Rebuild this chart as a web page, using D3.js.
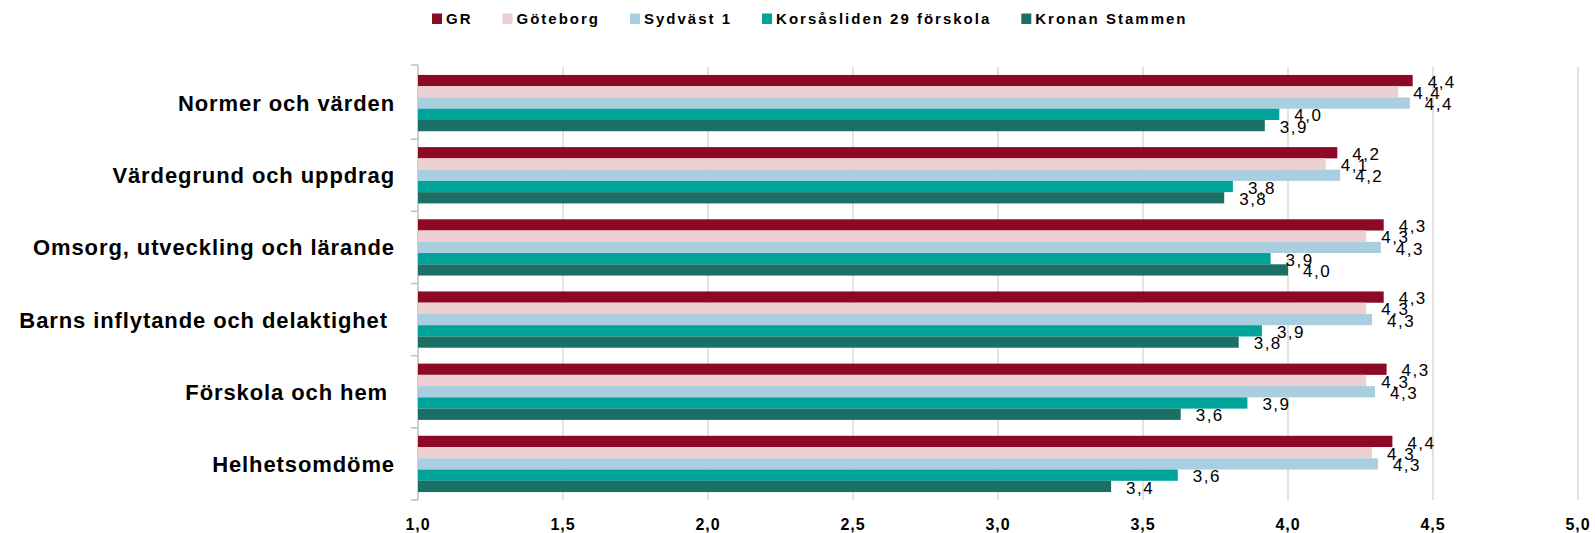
<!DOCTYPE html>
<html>
<head>
<meta charset="utf-8">
<script src="https://cdn.jsdelivr.net/npm/d3@7"></script>
<style>
body{margin:0;background:#fff;}
text{font-family:"Liberation Sans",Arial,sans-serif;white-space:pre;}
</style>
</head>
<body>
<div class="viz"></div>
<script>
const categories=["Normer och värden","Värdegrund och uppdrag","Omsorg, utveckling och lärande","Barns inflytande och delaktighet ","Förskola och hem ","Helhetsomdöme"];
const series=["GR","Göteborg","Sydväst 1","Korsåsliden 29 förskola","Kronan Stammen"];
const colors=["#8c0a26","#ebcfd1","#a9cee0","#00a39a","#1b7066"];
const grValues=[4.43,4.17,4.33,4.33,4.34,4.36];
const gbgValues=[4.38,4.13,4.27,4.27,4.27,4.29];
const sydvastValues=[4.42,4.18,4.32,4.29,4.30,4.31];
const korsasValues=[3.97,3.81,3.94,3.91,3.86,3.62];
const kronanValues=[3.92,3.78,4.00,3.83,3.63,3.39];
const xTicks=[1,1.5,2,2.5,3,3.5,4,4.5,5];

const allValues=[grValues,gbgValues,sydvastValues,korsasValues,kronanValues];
const width=1595, height=533;
const plotLeft=418, plotRight=1578, plotTop=67, plotBottom=500;

const svg=d3.select('.viz').append('svg')
	.attr('width',width)
	.attr('height',height)

const x=d3.scaleLinear().domain([1,5]).range([plotLeft,plotRight])
const y0=d3.scaleBand().domain(categories).range([plotTop,plotBottom]).paddingInner(0.22).paddingOuter(0.11)
const y1=d3.scaleBand().domain(series).range([0,y0.bandwidth()])
const fmt=v=>d3.format(".1f")(v).replace(".",",")

// gridlines
svg.selectAll('.grid')
	.data(xTicks.slice(1))
	.join('line')
	.attr('x1',d=>x(d)).attr('x2',d=>x(d))
	.attr('y1',plotTop).attr('y2',plotBottom)
	.attr('stroke','#d9d9d9')
	.attr('stroke-width',1.5)

// y axis line + category boundary ticks
svg.append('line')
	.attr('x1',plotLeft).attr('x2',plotLeft)
	.attr('y1',plotTop-2).attr('y2',plotBottom)
	.attr('stroke','#bfbfbf')
	.attr('stroke-width',1.5)

const bounds=categories.map(c=>y0(c)-y0.step()*y0.paddingInner()/2)
bounds[0]=plotTop-2
bounds.push(plotBottom)
svg.selectAll('.ytick')
	.data(bounds)
	.join('line')
	.attr('x1',plotLeft-7).attr('x2',plotLeft)
	.attr('y1',d=>d).attr('y2',d=>d)
	.attr('stroke','#bfbfbf')
	.attr('stroke-width',1.5)

// x tick labels
svg.selectAll('.xlab')
	.data(xTicks)
	.join('text')
	.attr('x',d=>x(d))
	.attr('y',530)
	.attr('text-anchor','middle')
	.attr('font-size',16)
	.attr('font-weight','bold')
	.attr('letter-spacing',1)
	.text(d=>fmt(d))

// category labels
svg.selectAll('.cat')
	.data(categories)
	.join('text')
	.attr('x',395)
	.attr('y',d=>y0(d)+y0.bandwidth()/2)
	.attr('dy','0.36em')
	.attr('text-anchor','end')
	.attr('font-size',22)
	.attr('font-weight','bold')
	.attr('letter-spacing',0.9)
	.text(d=>d)

// bars
const groups=svg.selectAll('.grp')
	.data(categories)
	.join('g')
	.attr('transform',d=>`translate(0,${y0(d)})`)

series.forEach((s,si)=>{
	groups.append('rect')
		.attr('x',plotLeft)
		.attr('y',y1(s))
		.attr('height',y1.bandwidth())
		.attr('width',(d,i)=>x(allValues[si][i])-plotLeft)
		.attr('fill',colors[si])
})
series.forEach((s,si)=>{
	groups.append('text')
		.attr('x',(d,i)=>x(allValues[si][i])+15)
		.attr('y',y1(s)+y1.bandwidth()/2+1)
		.attr('dy','0.36em')
		.attr('font-size',17)
		.attr('letter-spacing',1.5)
		.text((d,i)=>fmt(allValues[si][i]))
})

// legend
const legend=svg.append('g')
let lx=432
series.forEach((s,si)=>{
	legend.append('rect')
		.attr('x',lx).attr('y',13.5)
		.attr('width',10).attr('height',10.5)
		.attr('fill',colors[si])
	const t=legend.append('text')
		.attr('x',lx+14).attr('y',24)
		.attr('font-size',15)
		.attr('font-weight','bold')
		.attr('letter-spacing',2)
		.text(s)
	lx+=14+t.node().getComputedTextLength()+30
})
</script>
</body>
</html>
